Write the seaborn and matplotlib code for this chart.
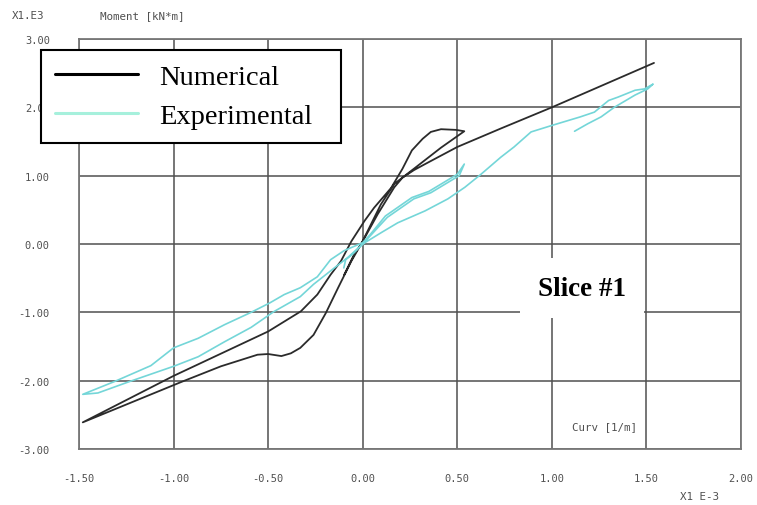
import matplotlib
matplotlib.use("Agg")
import matplotlib.pyplot as plt
from matplotlib.lines import Line2D
import seaborn as sns
import numpy as np

# curvature [1/m] x 1e-3 and moment [kN*m] x 1e3
num_curv = [1.54, 1.0, 0.73, 0.5, 0.33, 0.27, 0.21, 0.167, 0.08, 0.0, -0.06, -0.13,
            -0.195, -0.26, -0.33, -0.38, -0.43, -0.50, -0.556, -0.75, -0.96, -1.48,
            -1.0, -0.5, -0.327, -0.24, -0.17, -0.115, -0.06, 0.01, 0.06, 0.15, 0.21,
            0.26, 0.317, 0.36, 0.414, 0.493, 0.537, 0.414, 0.27, 0.167, 0.096,
            -0.008, -0.045, -0.098]
num_moment = [2.65, 2.0, 1.69, 1.42, 1.17, 1.08, 0.97, 0.83, 0.44, 0.04, -0.25, -0.64,
              -1.01, -1.33, -1.52, -1.60, -1.64, -1.61, -1.62, -1.79, -2.02, -2.61,
              -1.93, -1.28, -0.985, -0.74, -0.45, -0.25, 0.04, 0.34, 0.53, 0.82, 1.10,
              1.37, 1.54, 1.64, 1.68, 1.67, 1.65, 1.41, 1.10, 0.88, 0.58,
              0.0, -0.15, -0.45]

exp_curv = [-0.10, -0.09, -0.05, 0.0, 0.13, 0.27, 0.36, 0.45, 0.51, 0.537,
            0.50, 0.44, 0.35, 0.26, 0.12, 0.04, 0.0, -0.10, -0.17, -0.24, -0.33,
            -0.415, -0.49, -0.59, -0.73, -0.87, -1.0, -1.12, -1.31, -1.48,
            -1.40, -1.23, -1.0, -0.87, -0.73, -0.59, -0.47, -0.33, -0.26, -0.15,
            -0.08, 0.0, 0.10, 0.185, 0.33, 0.45, 0.54, 0.625, 0.73, 0.80, 0.89,
            1.0, 1.15, 1.225, 1.30, 1.35, 1.44, 1.49, 1.535,
            1.507, 1.44, 1.33, 1.26, 1.19, 1.12]
exp_moment = [-0.35, -0.23, -0.14, 0.0, 0.39, 0.66, 0.75, 0.90, 1.0, 1.17,
              1.02, 0.92, 0.77, 0.68, 0.41, 0.14, 0.02, -0.10, -0.23, -0.48, -0.64,
              -0.74, -0.86, -1.0, -1.18, -1.38, -1.52, -1.78, -2.01, -2.20,
              -2.18, -2.01, -1.79, -1.65, -1.43, -1.22, -0.99, -0.77, -0.59, -0.35,
              -0.20, 0.0, 0.17, 0.31, 0.485, 0.66, 0.83, 1.02, 1.27, 1.42, 1.64,
              1.735, 1.86, 1.93, 2.10, 2.15, 2.25, 2.27, 2.34,
              2.27, 2.18, 2.0, 1.86, 1.76, 1.65]

x_ticks = [-1.5, -1.0, -0.5, 0.0, 0.5, 1.0, 1.5, 2.0]
y_ticks = [-3.0, -2.0, -1.0, 0.0, 1.0, 2.0, 3.0]

num_color = "#2b2b2b"
exp_color = "#74d6d8"
grid_color = "#505050"
label_color = "#505050"
mono = "DejaVu Sans Mono"
serif = "Liberation Serif"

sns.set_style("white")

fig = plt.figure(figsize=(7.57, 5.06), dpi=100)
ax = fig.add_axes([79 / 757, 1 - 450 / 506, (741 - 79) / 757, (450 - 40) / 506])

sns.lineplot(x=num_curv, y=num_moment, sort=False, estimator=None,
             color=num_color, lw=1.3, ax=ax)
sns.lineplot(x=exp_curv, y=exp_moment, sort=False, estimator=None,
             color=exp_color, lw=1.2, ax=ax)

ax.set_xlim(-1.5, 2.0)
ax.set_ylim(-3.0, 3.0)
ax.set_xticks(x_ticks)
ax.set_yticks(y_ticks)
ax.set_xticklabels([f"{v:.2f}" for v in x_ticks], family=mono, fontsize=7.5, color=label_color)
ax.set_yticklabels([f"{v:.2f}" for v in y_ticks], family=mono, fontsize=7.5, color=label_color)
ax.tick_params(axis="x", length=0, pad=17)
ax.tick_params(axis="y", length=0, pad=21)
ax.grid(True, color=grid_color, lw=1.1)
ax.set_axisbelow(True)
for sp in ax.spines.values():
    sp.set_color("#777777")
    sp.set_linewidth(1.3)

small = dict(family=mono, fontsize=7.8, color=label_color, va="center")
fig.text(12 / 757, 1 - 16 / 506, "X1.E3", **small)
fig.text(100 / 757, 1 - 16 / 506, "Moment [kN*m]", **small)
fig.text(680 / 757, 1 - 497 / 506, "X1 E-3", **small)
fig.text(572 / 757, 1 - 427 / 506, "Curv [1/m]", **small)

handles = [Line2D([], [], color="black", lw=2.2),
           Line2D([], [], color="#a6f0dc", lw=2.2)]
leg = ax.legend(handles, ["Numerical", "Experimental"], loc="upper left",
                bbox_to_anchor=(41 / 757, 1 - 145 / 506, 300 / 757, 94 / 506),
                bbox_transform=fig.transFigure, mode="expand",
                borderaxespad=0, prop={"family": serif, "size": 20.5},
                frameon=True, fancybox=False, framealpha=1, edgecolor="black",
                handlelength=2.9, handletextpad=0.75, labelspacing=0.45,
                borderpad=0.5)
leg.get_frame().set_linewidth(1.5)
for t in leg.get_texts():
    t.set_color("black")

fig.text(582 / 757, 1 - 289 / 506, "Slice #1", family=serif, fontsize=19.5, fontweight="bold",
         color="black", ha="center", va="center",
         bbox=dict(boxstyle="square,pad=0.65", facecolor="white", edgecolor="none"))

fig.savefig("out.png", dpi=100, facecolor="white")
